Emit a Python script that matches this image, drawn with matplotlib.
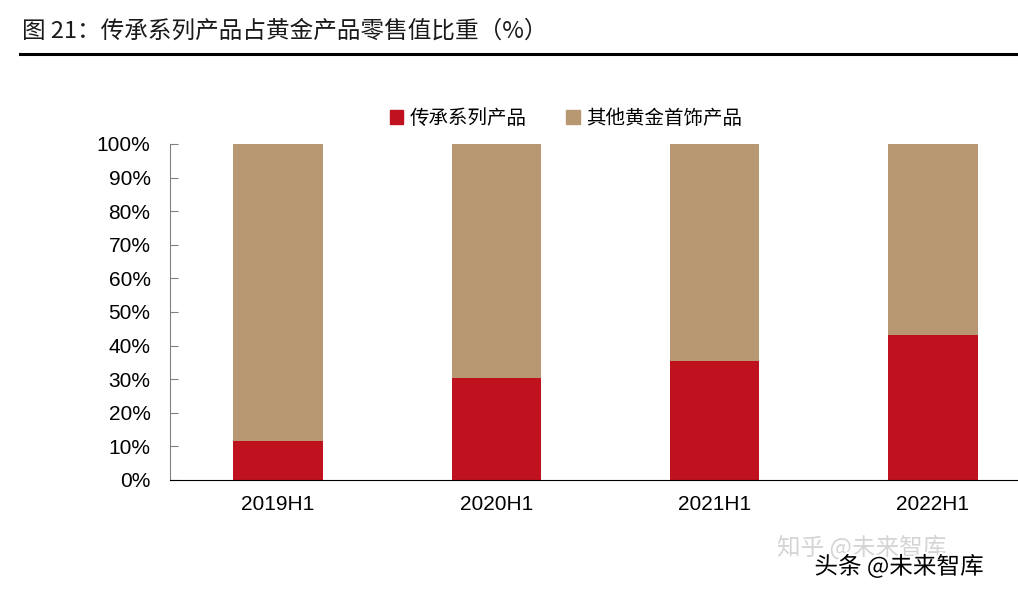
import matplotlib
matplotlib.use('Agg')
import matplotlib.pyplot as plt
from matplotlib.ticker import PercentFormatter
from matplotlib.patches import Patch
import matplotlib.patheffects as pe

plt.rcParams['font.family'] = ['Noto Sans CJK SC', 'DejaVu Sans']

periods = ['2019H1', '2020H1', '2021H1', '2022H1']
heritage = [11.6, 30.4, 35.4, 43.2]
other = [100 - v for v in heritage]
series_names = ['传承系列产品', '其他黄金首饰产品']
red = '#C0111F'
tan = '#B89872'

fig = plt.figure(figsize=(10.18, 5.93), dpi=100)
ax = fig.add_axes([0.167, 0.1906, 0.833, 0.5666])

x = range(len(periods))
ax.bar(x, heritage, width=0.41, color=red)
ax.bar(x, other, width=0.41, bottom=heritage, color=tan)

ax.set_xlim(-0.495, 3.39)
ax.set_ylim(0, 100)
ax.set_yticks(range(0, 101, 10))
ax.yaxis.set_major_formatter(PercentFormatter(decimals=0))
ax.set_xticks(list(x))
ax.set_xticklabels(periods)
for lab in ax.get_xticklabels() + ax.get_yticklabels():
    lab.set_family(['Liberation Sans', 'DejaVu Sans'])
    lab.set_fontsize(15)
ax.tick_params(axis='y', direction='in', length=6, color='#808080', pad=14)
ax.tick_params(axis='x', length=0, pad=11)
ax.spines['top'].set_visible(False)
ax.spines['right'].set_visible(False)
ax.spines['left'].set_color('#808080')
ax.spines['bottom'].set_color('black')

handles = [Patch(color=red), Patch(color=tan)]
fig.legend(handles, series_names, loc='center', bbox_to_anchor=(0.556, 0.80),
           ncol=2, frameon=False, fontsize=14, handlelength=0.7, handleheight=0.7,
           handletextpad=0.35, columnspacing=2.0)

fig.text(0.022, 0.948, '图 21：传承系列产品占黄金产品零售值比重（%）', fontsize=17,
         ha='left', va='center', color='#1a1a1a')
fig.add_artist(plt.Line2D([0.02, 1.0], [0.909, 0.909], color='black', lw=2.2,
                          transform=fig.transFigure))

fig.text(0.763, 0.078, '知乎 @未来智库', fontsize=17, color='#d0d0d0', alpha=0.9,
         ha='left', va='center')
fig.text(0.80, 0.045, '头条 @未来智库', fontsize=17, color='black', ha='left', va='center',
         path_effects=[pe.withStroke(linewidth=3, foreground='white')])

fig.savefig('out.png', dpi=100)
